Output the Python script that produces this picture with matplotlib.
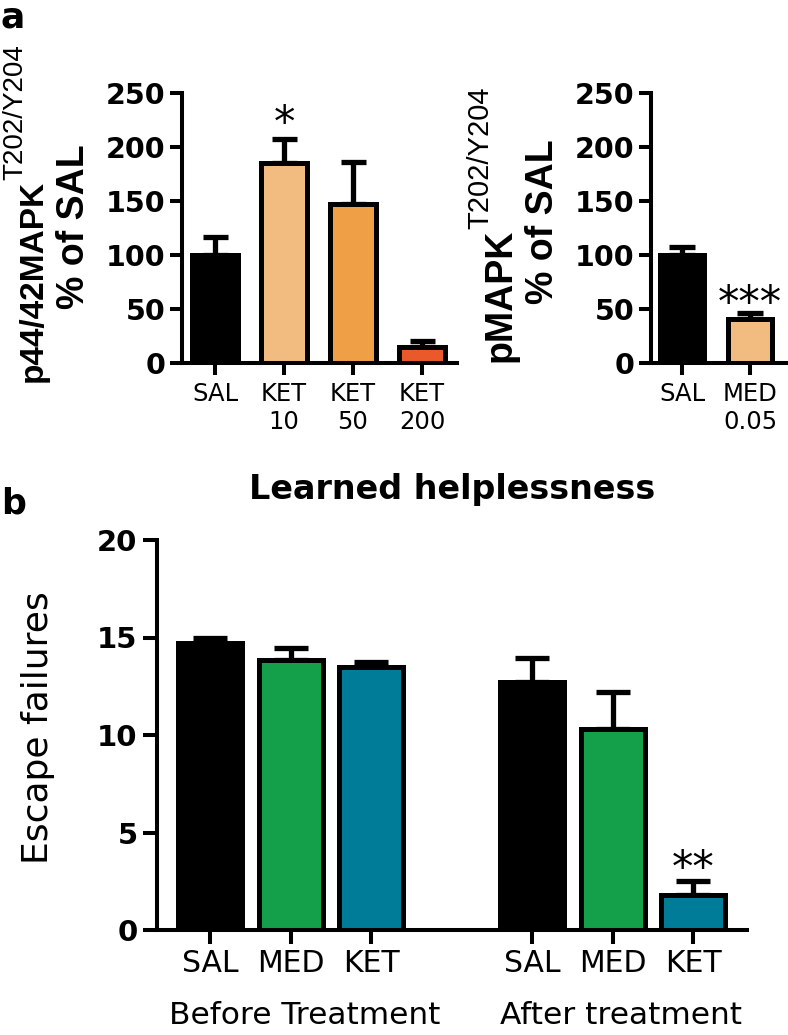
import matplotlib
matplotlib.use("Agg")
import matplotlib.pyplot as plt

# panel a, left: ketamine dose response
dose_labels = ["SAL", "KET\n10", "KET\n50", "KET\n200"]
dose_means = [100, 185, 147, 15]
dose_sem = [17, 22, 39, 5]
dose_colors = ["#000000", "#F2BC80", "#EF9F45", "#E9592A"]

# panel a, right: MED
med_labels = ["SAL", "MED\n0.05"]
med_means = [100, 41]
med_sem = [7, 5]
med_colors = ["#000000", "#F2BC80"]

# panel b: learned helplessness
lh_labels = ["SAL", "MED", "KET", "SAL", "MED", "KET"]
lh_pos = [0, 1, 2, 4, 5, 6]
lh_means = [14.7, 13.85, 13.5, 12.7, 10.3, 1.8]
lh_sem = [0.3, 0.6, 0.25, 1.25, 1.9, 0.7]
lh_colors = ["#000000", "#14A04B", "#007B98", "#000000", "#14A04B", "#007B98"]

W, H = 788, 1035
plt.rcParams["font.family"] = "DejaVu Sans"
fig = plt.figure(figsize=(W / 100, H / 100), dpi=100)


def px_axes(x0, y0, x1, y1):
    # pixel box (top-left origin) -> axes
    return fig.add_axes([x0 / W, 1 - y1 / H, (x1 - x0) / W, (y1 - y0) / H])


def style(ax, tick_len, ylab_size, xlab_size, xpad, ypad):
    for s in ["top", "right"]:
        ax.spines[s].set_visible(False)
    for s in ["left", "bottom"]:
        ax.spines[s].set_linewidth(2.9)
    ax.tick_params(width=2.9, length=tick_len, colors="black")
    ax.tick_params(axis="y", labelsize=ylab_size, pad=ypad)
    ax.tick_params(axis="x", labelsize=xlab_size, pad=xpad)
    for t in ax.get_yticklabels():
        t.set_fontweight("bold")


def bars(ax, pos, means, sem, colors, width, capsize):
    ax.errorbar(pos, means, yerr=[[0] * len(sem), sem], fmt="none",
                ecolor="black", elinewidth=3.8, capsize=capsize,
                capthick=3.8, zorder=1)
    ax.bar(pos, means, width=width, color=colors, edgecolor="black",
           linewidth=3.6, zorder=2)


def star(ax, x, y, s):
    ax.annotate(s, (x, y), xytext=(0, -17), textcoords="offset points",
                ha="center", va="baseline", fontsize=31, annotation_clip=False)


# ---- panel a left
ax1 = px_axes(182, 93, 457, 363)
bars(ax1, range(4), dose_means, dose_sem, dose_colors, 0.667, 9)
ax1.set_xlim(-0.478, 3.507)
ax1.set_ylim(0, 250)
ax1.set_yticks([0, 50, 100, 150, 200, 250])
ax1.set_xticks(range(4))
ax1.set_xticklabels(dose_labels)
style(ax1, 8.5, 20.5, 17.5, 5, 3.5)
star(ax1, 1, 232, "*")

# ---- panel a right
ax2 = px_axes(651, 93, 788, 363)
bars(ax2, range(2), med_means, med_sem, med_colors, 0.66, 9.5)
ax2.set_xlim(-0.456, 1.559)
ax2.set_ylim(0, 250)
ax2.set_yticks([0, 50, 100, 150, 200, 250])
ax2.set_xticks(range(2))
ax2.set_xticklabels(med_labels)
style(ax2, 8.5, 20.5, 17.5, 5, 3.5)
star(ax2, 1, 65, "***")

# ---- panel b
ax3 = px_axes(157, 540, 747, 930)
bars(ax3, lh_pos, lh_means, lh_sem, lh_colors, 0.795, 12)
ax3.set_xlim(-0.66, 6.67)
ax3.set_ylim(0, 20)
ax3.set_yticks([0, 5, 10, 15, 20])
ax3.set_xticks(lh_pos)
ax3.set_xticklabels(lh_labels)
style(ax3, 10, 21, 21.5, 4, 4)
star(ax3, 6, 3.74, "**")

ROT = "Liberation Sans"


# rotated y labels with superscripts
def rot_label(x_main, y_bot, main, x_sup, sup, size=24, sup_size=20):
    t = fig.text(x_main / W, 1 - y_bot / H, main, rotation=90, ha="center",
                 va="bottom", fontsize=size, fontweight="bold", family=ROT)
    fig.canvas.draw()
    bb = t.get_window_extent()
    fig.text(x_sup / W, bb.y1 / H, sup, rotation=90, ha="center",
             va="bottom", fontsize=sup_size, family=ROT)


rot_label(33, 382, "p44/42MAPK", 15, "T202/Y204")
fig.text(74 / W, 1 - 227 / H, "% of SAL", rotation=90, ha="center",
         va="center", fontsize=27, fontweight="bold", family=ROT)
rot_label(501, 362, "pMAPK", 480, "T202/Y204", size=27, sup_size=21)
fig.text(543 / W, 1 - 222 / H, "% of SAL", rotation=90, ha="center",
         va="center", fontsize=27, fontweight="bold", family=ROT)

fig.text(38 / W, 1 - 728 / H, "Escape failures", rotation=90, ha="center",
         va="center", fontsize=26)

fig.text(452 / W, 1 - 490 / H, "Learned helplessness", ha="center",
         va="center", fontsize=24, fontweight="bold")
fig.text(305 / W, 1 - 1016 / H, "Before Treatment", ha="center",
         va="center", fontsize=22.5)
fig.text(621 / W, 1 - 1016 / H, "After treatment", ha="center",
         va="center", fontsize=22.5)

fig.text(1 / W, 1 - 1 / H, "a", ha="left", va="top", fontsize=26,
         fontweight="bold")
fig.text(1 / W, 1 - 513 / H, "b", ha="left", va="baseline", fontsize=25,
         fontweight="bold")

fig.savefig("out.png", dpi=100)
plt.close(fig)
